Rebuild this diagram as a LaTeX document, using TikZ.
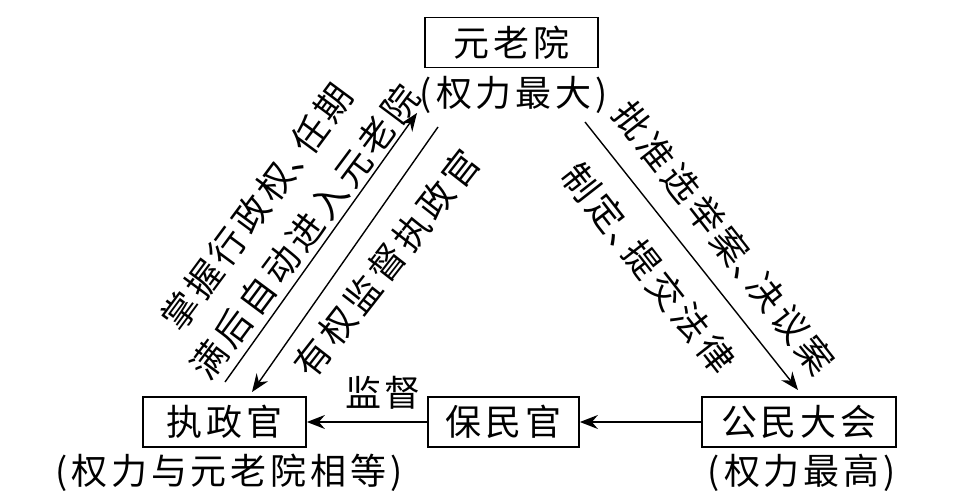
\documentclass[tikz,border=0pt]{standalone}
\usepackage{fontspec}
\newfontfamily\cjk[LetterSpace=11]{Noto Sans CJK SC}
\usetikzlibrary{arrows.meta}
\newcommand{\dun}{\hbox to 0.62em{、\hss}}
\tikzset{
  txt/.style={font=\cjk\fontsize{36}{36}\selectfont, inner sep=0pt},
  boxn/.style={txt, draw, line width=1.8pt, inner sep=0pt, minimum height=50pt},
  arr/.style={line width=1.4pt, -{Stealth[length=18pt,width=14pt,inset=6pt]}},
  plain/.style={line width=1.4pt}
}
\begin{document}
\begin{tikzpicture}[x=1pt,y=-1pt]
\useasboundingbox (0,0) rectangle (955,497);
% boxes
\node[boxn, minimum width=173pt] (sen) at (511.5,42.5) {元老院};
\node[txt] (senl) at (514,95) {(权力最大)};
\node[boxn, minimum width=163pt] (con) at (224.5,422) {执政官};
\node[txt] (conl) at (229,473) {(权力与元老院相等)};
\node[boxn, minimum width=151pt] (tri) at (503.5,422) {保民官};
\node[boxn, minimum width=194pt] (ass) at (799,422) {公民大会};
\node[txt] (assl) at (802,473) {(权力最高)};
\node[txt] (jd) at (383,393) {监督};
% horizontal arrows
\draw[arr] (tri.west) -- (con.east);
\draw[arr] (ass.west) -- (tri.east);
% diagonal arrows
\coordinate (u1) at (225,382);
\coordinate (u2) at (417,113);
\coordinate (d1) at (438,127);
\coordinate (d2) at (252,392);
\coordinate (r1) at (585,122);
\coordinate (r2) at (798,390);
\draw[arr] (u1) -- (u2);
\draw[arr] (d1) -- (d2);
\draw[arr] (r1) -- (r2);
% diagonal labels
\node[txt, rotate=53.5] (l1) at (257,207) {掌握行政权\dun 任期};
\node[txt, rotate=53.3] (l2) at (305,232) {满后自动进入元老院};
\node[txt, rotate=52] (l3) at (387,263) {有权监督执政官};
\node[txt, rotate=-52] (r1t) at (724,238) {批准选举案\dun 决议案};
\node[txt, rotate=-52] (r2t) at (649,268) {制定\dun 提交法律};
\end{tikzpicture}
\end{document}
